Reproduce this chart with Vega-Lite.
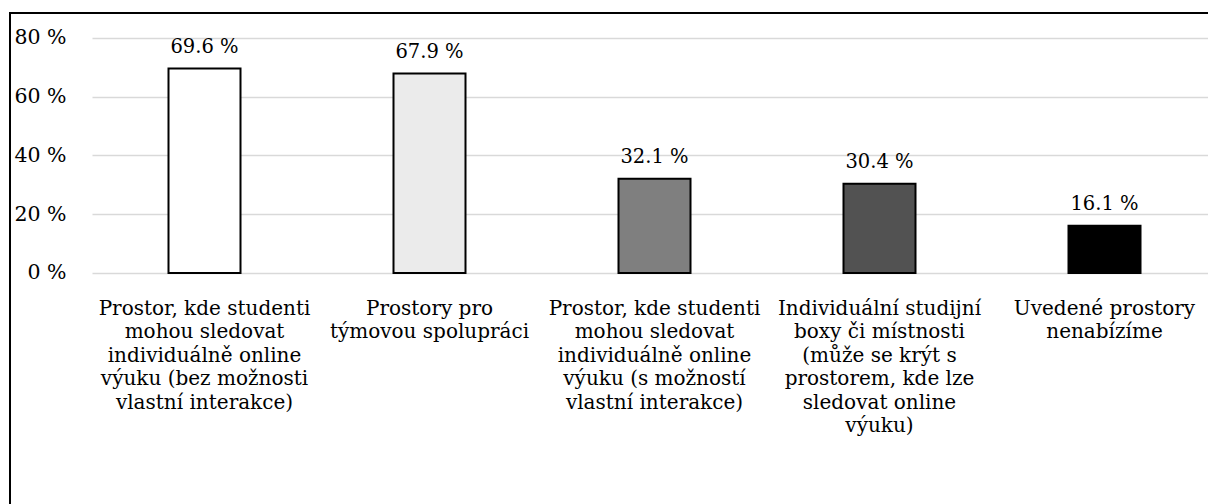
{
  "$schema": "https://vega.github.io/schema/vega-lite/v6.json",
  "autosize": {"type": "none"},
  "padding": {"left": 10, "top": 13, "right": 0, "bottom": 0},
  "width": 1200,
  "height": 492,
  "background": "white",
  "config": {
    "font": "DejaVu Serif",
    "view": {"stroke": "black", "strokeWidth": 2}
  },
  "data": {
    "values": [
      {"cat": "Prostor, kde studenti|mohou sledovat|individuálně online|výuku (bez možnosti|vlastní interakce)", "value": 69.6, "color": "#ffffff"},
      {"cat": "Prostory pro|týmovou spolupráci", "value": 67.9, "color": "#ebebeb"},
      {"cat": "Prostor, kde studenti |mohou sledovat|individuálně online|výuku (s možností|vlastní interakce)", "value": 32.1, "color": "#7f7f7f"},
      {"cat": "Individuální studijní|boxy či místnosti|(může se krýt s|prostorem, kde lze|sledovat online|výuku)", "value": 30.4, "color": "#525252"},
      {"cat": "Uvedené prostory|nenabízíme", "value": 16.1, "color": "#000000"}
    ]
  },
  "transform": [
    {"calculate": "format(datum.value, '.1f') + ' %'", "as": "label"}
  ],
  "encoding": {
    "x": {
      "field": "cat",
      "type": "nominal",
      "sort": null,
      "title": null,
      "scale": {"range": [82, 1207], "paddingInner": 0.68, "paddingOuter": 0.34},
      "axis": {
        "orient": "bottom",
        "offset": -191,
        "domain": false,
        "ticks": false,
        "labelPadding": 0,
        "labelAngle": 0,
        "labelAlign": "center",
        "labelBaseline": "alphabetic",
        "labelFont": "DejaVu Serif",
        "labelColor": "black",
        "labelFontSize": 20,
        "labelLineHeight": 23.5,
        "labelLimit": 0,
        "labelExpr": "split(datum.label, '|')"
      }
    },
    "y": {
      "field": "value",
      "type": "quantitative",
      "title": null,
      "scale": {"domain": [-78.98, 88.51], "nice": false, "zero": false},
      "axis": {
        "values": [0, 20, 40, 60, 80],
        "offset": -56,
        "domain": false,
        "ticks": false,
        "labelPadding": 0,
        "labelAlign": "right",
        "labelBaseline": "middle",
        "labelFont": "DejaVu Serif",
        "labelColor": "black",
        "labelFontSize": 20.5,
        "labelExpr": "datum.value + ' %'",
        "grid": true,
        "gridColor": "#d9d9d9",
        "gridWidth": 1.5
      }
    }
  },
  "layer": [
    {
      "mark": {"type": "bar", "stroke": "black", "strokeWidth": 2},
      "encoding": {
        "y2": {"datum": 0},
        "fill": {"field": "color", "type": "nominal", "scale": null, "legend": null}
      }
    },
    {
      "mark": {"type": "text", "font": "DejaVu Serif", "fontSize": 19.5, "baseline": "alphabetic", "dy": -16, "color": "black"},
      "encoding": {
        "text": {"field": "label", "type": "nominal"}
      }
    }
  ]
}
